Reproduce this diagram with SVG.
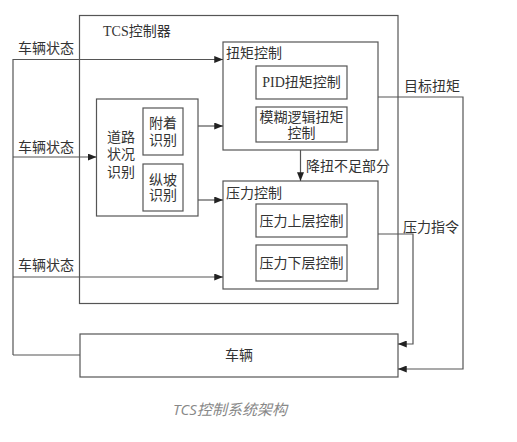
<svg xmlns="http://www.w3.org/2000/svg" width="517" height="442" viewBox="0 0 517 442">
<style>
.box{fill:none;stroke:#555;stroke-width:1.2}
.ln{fill:none;stroke:#555;stroke-width:1.2}
text{font-family:"Liberation Serif","Noto Sans CJK SC",serif;font-size:14px;fill:#333}
.c{text-anchor:middle}
.cap{font-family:"Open Sans","Noto Sans CJK SC",sans-serif;font-style:italic;font-size:15px;fill:#888}
</style>
<defs>
<marker id="ah" viewBox="0 0 10 8" refX="10" refY="4" markerWidth="9" markerHeight="7" markerUnits="userSpaceOnUse" orient="auto">
<path d="M0,0 L10,4 L0,8 z" fill="#222"/>
</marker>
</defs>
<rect width="517" height="442" fill="#fff"/>
<g id="tcs">
<rect class="box" x="79.5" y="15.5" width="318.5" height="288"/>
<text x="103" y="36">TCS控制器</text>
</g>
<g id="road">
<rect class="box" x="96.5" y="99" width="101.5" height="117"/>
<text class="c" x="121" y="142">道路</text>
<text class="c" x="121" y="159">状况</text>
<text class="c" x="121" y="177">识别</text>
</g>
<g id="adhesion">
<rect class="box" x="143" y="108" width="40" height="47"/>
<text class="c" x="163" y="128">附着</text>
<text class="c" x="163" y="145">识别</text>
</g>
<g id="slope">
<rect class="box" x="143" y="164" width="40" height="47"/>
<text class="c" x="163" y="185">纵坡</text>
<text class="c" x="163" y="200">识别</text>
</g>
<g id="torque">
<rect class="box" x="223" y="42" width="155" height="108"/>
<text x="226" y="58">扭矩控制</text>
</g>
<g id="pid">
<rect class="box" x="256" y="66" width="91" height="33"/>
<text class="c" x="301.5" y="87">PID扭矩控制</text>
</g>
<g id="fuzzy">
<rect class="box" x="256" y="107" width="91" height="35"/>
<text class="c" x="301.5" y="122">模糊逻辑扭矩</text>
<text class="c" x="301.5" y="138">控制</text>
</g>
<g id="pressure">
<rect class="box" x="223" y="181" width="155" height="108"/>
<text x="226" y="198">压力控制</text>
</g>
<g id="upper">
<rect class="box" x="256" y="204" width="91" height="33"/>
<text class="c" x="301.5" y="226">压力上层控制</text>
</g>
<g id="lower">
<rect class="box" x="256" y="245" width="91" height="36"/>
<text class="c" x="301.5" y="268">压力下层控制</text>
</g>
<g id="vehicle">
<rect class="box" x="80" y="334" width="318" height="43"/>
<text class="c" x="239" y="360">车辆</text>
</g>
<g id="connectors">
<path class="ln" d="M13,355 V59.5 H223" marker-end="url(#ah)"/>
<path class="ln" d="M80,355 H13"/>
<path class="ln" d="M13,157 H96.5" marker-end="url(#ah)"/>
<path class="ln" d="M13,277 H223" marker-end="url(#ah)"/>
<path class="ln" d="M198,126 H223" marker-end="url(#ah)"/>
<path class="ln" d="M198,200 H223" marker-end="url(#ah)"/>
<path class="ln" d="M300.5,150 V181" marker-end="url(#ah)"/>
<path class="ln" d="M378,97 H463 V369 H398" marker-end="url(#ah)"/>
<path class="ln" d="M378,234 H413 V344 H398" marker-end="url(#ah)"/>
<text x="18" y="53">车辆状态</text>
<text x="18" y="152">车辆状态</text>
<text x="18" y="270">车辆状态</text>
<text x="306" y="171">降扭不足部分</text>
<text x="404" y="91">目标扭矩</text>
<text x="403" y="232">压力指令</text>
</g>
<text class="cap c" x="230" y="415">TCS控制系统架构</text>
</svg>
